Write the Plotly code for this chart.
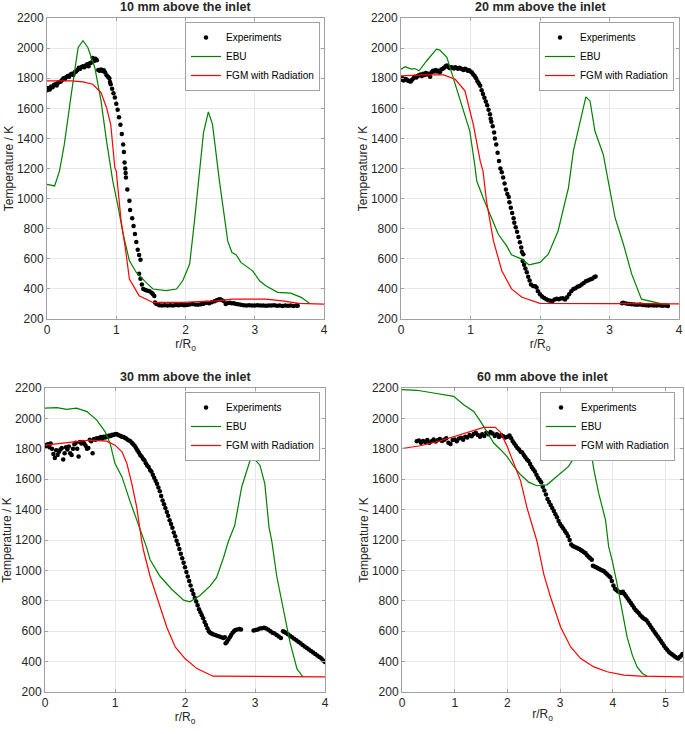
import plotly.graph_objects as go

# ---------------- 10 mm ----------------
exp10_x = [0.00,0.02,0.04,0.06,0.08,0.10,0.12,0.14,0.16,0.18,0.20,0.22,0.24,0.26,0.28,0.30,0.32,0.34,0.36,0.38,
           0.40,0.42,0.44,0.46,0.48,0.50,0.52,0.54,0.56,0.58,0.60,0.62,0.64,0.66,0.68,0.70,0.72,0.74,0.76,0.78,
           0.80,0.82,0.84,0.86,0.88,0.90,0.91,0.92,0.94,0.96,0.98,1.00,1.02,1.04,1.06,1.08,1.10,1.11,1.12,1.13,
           1.135,1.14,1.16,1.19,1.20,1.23,1.25,1.27,1.29,1.31,1.33,1.35,1.33,1.35,1.37,1.39,1.42,1.45,1.48,1.51,
           1.53,1.55,1.56,1.58,1.62,1.66,1.70,1.74,1.78,1.82,1.86,1.90,1.94,1.98,2.02,2.06,2.10,2.14,2.18,2.22,
           2.26,2.30,2.34,2.38,2.42,2.45,2.48,2.50,2.52,2.55,2.58,2.61,2.64,2.67,2.70,2.73,2.76,2.80,2.84,2.88,
           2.92,2.96,3.00,3.04,3.08,3.12,3.16,3.20,3.24,3.28,3.32,3.36,3.40,3.44,3.48,3.52,3.56,3.60,3.62]
exp10_y = [1720,1735,1725,1745,1740,1755,1760,1752,1770,1775,1778,1790,1800,1795,1808,1815,1810,1825,1830,1822,
           1840,1845,1855,1870,1862,1875,1880,1872,1885,1892,1880,1900,1905,1935,1915,1930,1920,1855,1850,1858,
           1848,1852,1838,1820,1810,1800,1775,1760,1730,1700,1672,1630,1590,1540,1490,1430,1360,1310,1240,1200,
           1170,1140,1060,985,925,870,818,765,712,660,625,593,500,468,430,400,393,388,384,375,
           365,352,310,300,292,290,291,289,292,290,293,291,294,292,293,297,300,296,295,298,
           302,308,305,312,318,325,330,332,326,320,300,306,308,304,305,300,298,295,292,290,
           291,289,290,292,289,290,288,290,289,291,288,290,287,289,288,290,287,289,288]
ebu10_x = [0.00,0.11,0.18,0.25,0.35,0.45,0.52,0.59,0.69,0.78,0.86,0.95,1.02,1.10,1.19,1.29,1.43,1.53,1.72,1.87,
           1.96,2.06,2.13,2.20,2.26,2.33,2.39,2.49,2.54,2.61,2.67,2.73,2.80,2.97,3.07,3.16,3.33,3.52,3.67,3.79]
ebu10_y = [1095,1084,1182,1360,1693,2004,2049,2004,1871,1649,1382,1116,962,764,587,509,443,399,388,399,
           454,565,852,1183,1438,1576,1493,1116,940,719,642,627,576,520,454,421,377,372,344,304]
fgm10_x = [0.00,0.35,0.52,0.66,0.78,0.86,0.92,0.98,1.00,1.07,1.13,1.19,1.33,1.53,1.96,2.44,2.68,3.16,3.40,3.64,4.00]
fgm10_y = [1782,1782,1776,1760,1704,1604,1493,1204,1183,852,675,465,355,310,310,321,332,332,321,304,299]

# ---------------- 20 mm ----------------
exp20_x = [0.00,0.02,0.04,0.06,0.08,0.10,0.12,0.14,0.16,0.18,0.20,0.22,0.24,0.26,0.28,0.30,0.32,0.34,0.36,0.38,
           0.40,0.42,0.44,0.46,0.48,0.50,0.52,0.54,0.56,0.58,0.60,0.62,0.64,0.66,0.68,0.70,0.72,0.74,0.76,0.78,
           0.80,0.82,0.84,0.86,0.88,0.90,0.92,0.94,0.96,0.98,1.00,1.02,1.04,1.06,1.08,1.10,1.12,1.14,1.16,1.18,
           1.20,1.22,1.24,1.26,1.28,1.29,1.30,1.32,1.34,1.35,1.37,1.39,1.41,1.43,1.45,1.47,1.49,1.51,1.53,1.55,
           1.56,1.58,1.60,1.62,1.63,1.65,1.67,1.69,1.71,1.73,1.74,1.76,1.75,1.77,1.79,1.81,1.83,1.85,1.87,1.90,
           1.93,1.95,1.97,2.00,2.03,2.06,2.09,2.12,2.15,2.18,2.21,2.24,2.27,2.30,2.33,2.36,2.39,2.42,2.45,2.48,
           2.51,2.54,2.57,2.60,2.63,2.66,2.69,2.72,2.75,2.78,2.80,
           3.18,3.20,3.24,3.28,3.32,3.36,3.40,3.44,3.48,3.52,3.56,3.60,3.64,3.68,3.72,3.76,3.80,3.84]
exp20_y = [1790,1800,1785,1795,1792,1785,1780,1778,1790,1800,1810,1805,1815,1820,1825,1815,1830,1822,1835,1825,
           1830,1810,1840,1850,1845,1855,1845,1850,1840,1858,1862,1870,1880,1885,1875,1868,1872,1870,1865,1872,
           1868,1862,1870,1865,1860,1855,1862,1858,1850,1852,1845,1838,1825,1815,1800,1780,1765,1750,1720,1695,
           1670,1645,1620,1590,1560,1530,1510,1480,1440,1400,1360,1305,1250,1200,1175,1140,1100,1060,1030,1010,
           975,940,905,870,840,810,780,745,710,675,645,630,585,560,535,510,480,455,430,420,
           418,410,385,365,350,340,332,325,322,320,330,335,332,336,338,330,345,365,385,400,
           405,415,420,430,440,450,455,462,468,478,482,
           305,308,303,300,298,297,295,296,293,292,290,292,290,289,291,288,290,287]
ebu20_x = [0.00,0.06,0.15,0.20,0.26,0.37,0.51,0.56,0.66,0.78,0.90,0.99,1.06,1.09,1.18,1.28,1.40,1.52,1.59,1.74,
           1.84,2.00,2.12,2.26,2.41,2.48,2.58,2.66,2.72,2.79,2.91,2.98,3.08,3.20,3.32,3.46,3.61,3.77,3.85]
ebu20_y = [1860,1876,1860,1864,1849,1916,1993,1987,1938,1760,1582,1449,1227,1117,1007,896,763,686,627,598,
           560,576,631,785,1073,1315,1516,1676,1649,1449,1293,1127,874,697,498,332,316,299,298]
fgm20_x = [0.00,0.32,0.61,0.78,0.92,1.04,1.14,1.18,1.23,1.33,1.45,1.59,1.74,2.00,4.00]
fgm20_y = [1816,1822,1822,1793,1716,1493,1249,1183,984,719,521,400,344,304,300]

# ---------------- 30 mm ----------------
exp30_x = [0.00,0.02,0.04,0.06,0.08,0.10,0.12,0.14,0.16,0.18,0.20,0.22,0.24,0.26,0.28,0.30,0.32,0.34,0.36,0.38,
           0.40,0.42,0.44,0.46,0.48,0.50,0.52,0.54,0.56,0.58,0.60,0.62,0.64,0.66,0.68,0.70,0.72,0.74,0.76,0.78,
           0.80,0.82,0.84,0.86,0.88,0.90,0.92,0.94,0.96,0.98,1.00,1.02,1.04,1.06,1.08,1.10,1.12,1.14,1.16,1.18,
           1.20,1.22,1.24,1.26,1.28,1.30,1.32,1.34,1.36,1.38,1.40,1.42,1.44,1.46,1.48,1.50,1.52,1.54,1.56,1.58,
           1.60,1.62,1.64,1.66,1.68,1.70,1.72,1.74,1.76,1.78,1.80,1.82,1.84,1.86,1.88,1.90,1.92,1.94,1.96,1.98,
           2.00,2.02,2.04,2.06,2.08,2.10,2.12,2.14,2.16,2.18,2.20,2.22,2.24,2.26,2.28,2.30,2.32,2.34,2.36,2.38,
           2.40,2.43,2.46,2.49,2.52,2.55,2.57,2.58,2.60,2.62,2.64,2.66,2.68,2.70,2.72,2.75,2.78,2.80,
           2.98,3.01,3.04,3.07,3.10,3.13,3.16,3.19,3.22,3.25,3.28,3.31,3.34,3.37,3.40,3.42,3.44,3.47,3.50,3.53,
           3.56,3.59,3.62,3.65,3.68,3.71,3.74,3.77,3.80,3.83,3.86,3.89,3.92,3.95,3.98,4.00]
exp30_y = [1825,1815,1830,1810,1835,1800,1765,1740,1790,1760,1780,1795,1805,1730,1770,1810,1795,1815,1770,1760,
           1800,1830,1840,1800,1750,1845,1835,1845,1835,1820,1800,1805,1860,1850,1770,1865,1860,1870,1865,1872,
           1878,1868,1880,1875,1882,1880,1888,1885,1892,1890,1895,1898,1892,1888,1885,1880,1878,1872,1868,1860,
           1855,1850,1840,1830,1820,1805,1790,1775,1760,1750,1735,1725,1705,1690,1680,1660,1650,1630,1610,1590,
           1570,1545,1520,1490,1460,1435,1410,1385,1360,1330,1305,1280,1250,1225,1195,1170,1140,1110,1080,1050,
           1020,990,960,930,900,870,845,820,795,770,745,725,705,685,660,640,620,600,590,585,
           580,575,570,565,560,555,560,520,530,545,560,575,590,600,608,612,615,612,
           605,608,612,618,620,622,618,610,600,590,585,575,565,555,600,595,590,580,570,560,
           550,540,530,520,510,500,490,480,470,460,450,440,430,420,405,398]
ebu30_x = [0.00,0.17,0.31,0.45,0.60,0.74,0.86,0.93,1.00,1.10,1.21,1.33,1.45,1.50,1.64,1.81,1.98,2.07,2.21,2.36,
           2.45,2.55,2.62,2.71,2.81,2.93,3.00,3.07,3.14,3.20,3.24,3.31,3.40,3.50,3.60,3.69]
ebu30_y = [2067,2071,2060,2067,2045,1989,1912,1835,1703,1615,1461,1307,1153,1072,963,876,804,793,833,898,
           952,1083,1192,1295,1549,1725,1729,1692,1571,1285,1192,963,745,527,352,297]
fgm30_x = [0.00,0.31,0.64,0.88,1.00,1.10,1.17,1.24,1.31,1.38,1.41,1.50,1.62,1.74,1.86,2.00,2.17,2.40,4.00]
fgm30_y = [1824,1839,1857,1850,1824,1780,1703,1571,1417,1197,1126,963,789,626,496,420,354,304,300]

# ---------------- 60 mm ----------------
exp60_x = [0.28,0.32,0.36,0.40,0.44,0.48,0.52,0.56,0.60,0.64,0.68,0.72,0.76,0.80,0.84,0.88,0.92,0.96,1.00,1.04,
           1.08,1.12,1.16,1.20,1.24,1.28,1.32,1.36,1.40,1.44,1.48,1.52,1.56,1.60,1.64,1.68,1.72,1.76,1.80,1.84,
           1.88,1.92,1.96,2.00,2.04,2.07,2.10,2.13,2.16,2.19,2.22,2.25,2.28,2.31,2.34,2.37,2.40,2.43,2.46,2.49,
           2.52,2.55,2.58,2.61,2.64,2.67,2.70,2.73,2.76,2.79,2.82,2.85,2.88,2.91,2.94,2.97,3.00,3.03,3.06,3.09,
           3.12,3.15,3.18,3.21,3.24,3.27,3.30,3.33,3.36,3.39,3.42,3.45,3.48,3.51,3.54,3.57,3.60,3.62,3.65,3.68,
           3.71,3.74,3.77,3.80,3.83,3.86,3.89,3.92,3.95,3.98,4.01,4.04,4.07,4.10,4.13,4.16,4.19,4.22,4.25,4.28,
           4.31,4.34,4.37,4.40,4.43,4.46,4.49,4.52,4.55,4.58,4.61,4.64,4.67,4.70,4.73,4.76,4.79,4.82,4.85,4.88,
           4.91,4.94,4.97,5.00,5.03,5.06,5.09,5.12,5.15,5.18,5.21,5.24,5.27,5.30,5.32]
exp60_y = [1850,1855,1840,1852,1845,1858,1840,1850,1862,1848,1858,1865,1852,1860,1870,1840,1832,1858,1862,1850,
           1868,1872,1860,1880,1875,1890,1882,1898,1905,1890,1880,1895,1885,1905,1895,1910,1900,1885,1895,1878,
           1890,1882,1875,1880,1888,1870,1850,1835,1820,1805,1795,1780,1775,1760,1745,1730,1720,1700,1680,1665,
           1650,1630,1610,1595,1580,1550,1525,1500,1470,1450,1430,1410,1390,1370,1350,1325,1305,1290,1275,1260,
           1245,1225,1200,1170,1160,1155,1150,1145,1140,1135,1128,1120,1115,1100,1090,1080,1070,1030,1025,1020,
           1015,1010,1005,1000,995,985,975,965,955,930,900,880,870,862,858,852,860,845,830,815,
           800,785,770,755,740,730,720,705,695,685,678,670,655,640,625,610,595,580,565,550,
           535,520,505,490,478,465,455,448,440,432,425,420,430,440,450]
ebu60_x = [0.00,0.28,0.60,0.98,1.17,1.36,1.49,1.61,1.74,1.87,1.99,2.12,2.25,2.41,2.56,2.75,2.94,3.16,3.32,3.48,
           3.56,3.64,3.73,3.86,3.92,3.99,4.08,4.20,4.27,4.37,4.46,4.56,4.65]
ebu60_y = [2189,2185,2167,2145,2090,2046,1980,1914,1838,1794,1750,1684,1629,1579,1557,1563,1618,1684,1772,1842,
           1834,1662,1508,1333,1157,1061,909,691,561,441,365,322,304]
fgm60_x = [0.00,0.35,0.73,1.04,1.36,1.55,1.77,1.87,1.99,2.12,2.25,2.37,2.50,2.56,2.69,2.82,3.01,3.20,3.39,3.64,
           3.89,4.21,4.53,5.33]
fgm60_y = [1802,1820,1853,1886,1919,1941,1941,1908,1820,1699,1589,1413,1249,1192,974,822,626,496,420,365,
           333,311,304,300]

titles = ["10 mm above the inlet", "20 mm above the inlet", "30 mm above the inlet", "60 mm above the inlet"]
x_ranges = [[0, 4], [0, 4], [0, 4], [0, 5.33]]
x_tickvals = [[0, 1, 2, 3, 4], [0, 1, 2, 3, 4], [0, 1, 2, 3, 4], [0, 1, 2, 3, 4, 5]]
y_tickvals = [200, 400, 600, 800, 1000, 1200, 1400, 1600, 1800, 2000, 2200]

data = [
    (exp10_x, exp10_y, ebu10_x, ebu10_y, fgm10_x, fgm10_y),
    (exp20_x, exp20_y, ebu20_x, ebu20_y, fgm20_x, fgm20_y),
    (exp30_x, exp30_y, ebu30_x, ebu30_y, fgm30_x, fgm30_y),
    (exp60_x, exp60_y, ebu60_x, ebu60_y, fgm60_x, fgm60_y),
]

W, H = 685, 734
# plot areas in window pixels: (left, right, top, bottom)
boxes = [(47, 324, 18, 319), (401, 679, 18, 319), (45, 325, 388, 692), (402, 683, 388, 692)]
legend_pos = [(320, 22), (674, 22), (320, 392), (675, 392)]

FONT = "Liberation Sans, Arial, sans-serif"
TXT = "#262626"
AXC = "#a0a0a0"
GREEN = "#008000"
RED = "#ff0000"

fig = go.Figure()
layout = dict(
    width=W, height=H, margin=dict(l=0, r=0, t=0, b=0, autoexpand=False),
    paper_bgcolor="white", plot_bgcolor="white",
    font=dict(family=FONT, size=12, color=TXT),
    showlegend=True,
)
annotations = []
for i, (ex, ey, bx, by, fx, fy) in enumerate(data):
    n = i + 1
    xa = "x" if n == 1 else f"x{n}"
    ya = "y" if n == 1 else f"y{n}"
    lg = "legend" if n == 1 else f"legend{n}"
    fig.add_trace(go.Scatter(x=ex, y=ey, mode="markers", name="Experiments",
                             marker=dict(color="black", size=4.5), xaxis=xa, yaxis=ya, legend=lg))
    fig.add_trace(go.Scatter(x=bx, y=by, mode="lines", name="EBU",
                             line=dict(color=GREEN, width=1.2), xaxis=xa, yaxis=ya, legend=lg))
    fig.add_trace(go.Scatter(x=fx, y=fy, mode="lines", name="FGM with Radiation",
                             line=dict(color=RED, width=1.2), xaxis=xa, yaxis=ya, legend=lg))
    l, r, t, b = boxes[i]
    xkey = "xaxis" if n == 1 else f"xaxis{n}"
    ykey = "yaxis" if n == 1 else f"yaxis{n}"
    layout[xkey] = dict(
        domain=[l / W, r / W], anchor=ya, range=x_ranges[i], tickvals=x_tickvals[i],
        automargin=False,
        showgrid=True, gridcolor="#e8e8e8", gridwidth=1, zeroline=False,
        showline=True, linecolor=AXC, linewidth=1, mirror="ticks",
        ticks="inside", ticklen=3, tickcolor=AXC,
        tickfont=dict(size=12, color=TXT),
        title=dict(text="r/R<sub>o</sub>", font=dict(size=12, color=TXT), standoff=0),
    )
    layout[ykey] = dict(
        domain=[1 - b / H, 1 - t / H], anchor=xa, range=[200, 2200], tickvals=y_tickvals,
        automargin=False,
        showgrid=True, gridcolor="#e8e8e8", gridwidth=1, zeroline=False,
        showline=True, linecolor=AXC, linewidth=1, mirror="ticks",
        ticks="inside", ticklen=3, tickcolor=AXC,
        tickfont=dict(size=12, color=TXT),
        title=dict(text="Temperature / K", font=dict(size=12, color=TXT), standoff=0),
    )
    lx, ly = legend_pos[i]
    layout[lg] = dict(
        x=lx / W, y=1 - ly / H, xanchor="right", yanchor="top",
        bgcolor="white", bordercolor=AXC, borderwidth=1,
        font=dict(size=10, color="black", family=FONT),
        tracegroupgap=0, itemwidth=30,
    )
    annotations.append(dict(
        text=f"<b>{titles[i]}</b>", x=(l + r) / 2 / W, y=1 - t / H,
        xref="paper", yref="paper", xanchor="center", yanchor="bottom",
        showarrow=False, font=dict(size=12.5, color=TXT, family=FONT), yshift=2,
    ))

layout["annotations"] = annotations
fig.update_layout(**layout)
fig.write_html("out.html", config={"displayModeBar": False},
               post_script="document.body.style.margin='0px';")
